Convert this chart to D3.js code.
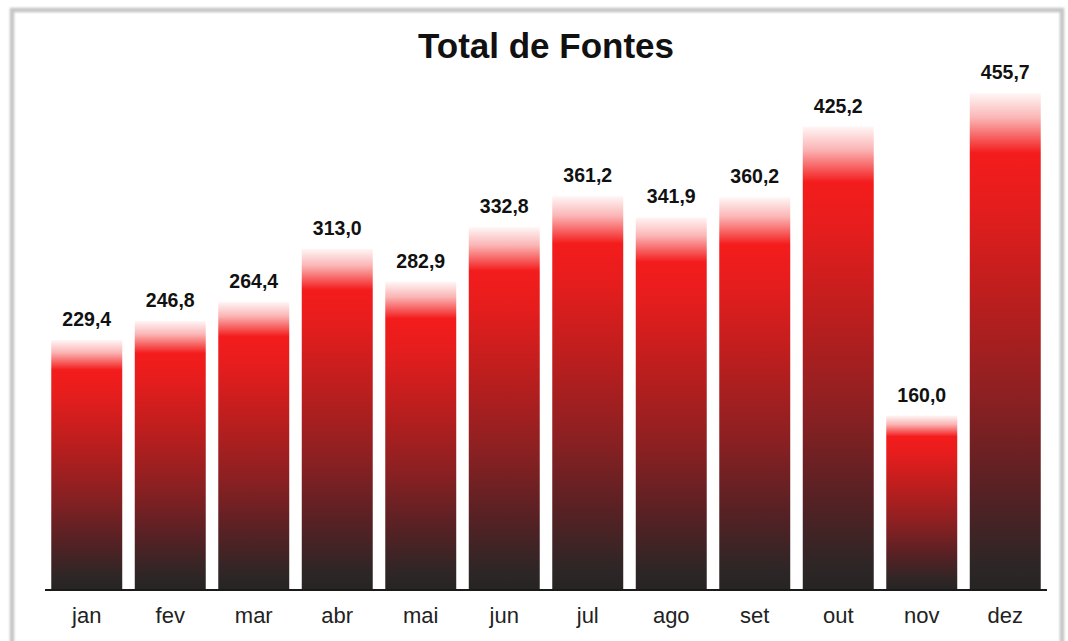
<!DOCTYPE html>
<html>
<head>
<meta charset="utf-8">
<script src="https://cdn.jsdelivr.net/npm/d3@7"></script>
<style>
  body { margin: 0; background: #fff; }
  svg { display: block; font-family: "Liberation Sans", Arial, sans-serif; }
</style>
</head>
<body>
<div id="chart"></div>
<script>
// data
const months = ["jan", "fev", "mar", "abr", "mai", "jun", "jul", "ago", "set", "out", "nov", "dez"];
const totals = [229.4, 246.8, 264.4, 313.0, 282.9, 332.8, 361.2, 341.9, 360.2, 425.2, 160.0, 455.7];

const width = 1068;
const height = 641;
const left = 45, right = 1047, base = 590;

const svg = d3.select("#chart").append("svg")
    .attr("width", width)
    .attr("height", height);

// soft shadow for the frame
const defs = svg.append("defs");
const blur = defs.append("filter").attr("id", "soft");
blur.append("feGaussianBlur").attr("stdDeviation", 0.8);

const grad = defs.append("linearGradient")
    .attr("id", "barGrad")
    .attr("x1", 0).attr("y1", 0).attr("x2", 0).attr("y2", 1);
[[0, "#fff6f6"], [0.05, "#fbb4b4"], [0.12, "#f41c1c"], [0.22, "#e61d1d"],
 [0.42, "#ba1e1e"], [0.62, "#8a2022"], [0.8, "#572124"], [0.95, "#2d2626"], [1, "#282424"]]
  .forEach(([o, c]) => grad.append("stop").attr("offset", o).attr("stop-color", c));

// frame
svg.append("rect")
    .attr("x", 12).attr("y", 10)
    .attr("width", 1050).attr("height", 660)
    .attr("fill", "none")
    .attr("stroke", "#c6c6c6")
    .attr("stroke-width", 4.5)
    .attr("filter", "url(#soft)");

const x = d3.scaleBand()
    .domain(months)
    .range([left, right])
    .paddingInner(0.15)
    .paddingOuter(0.075);

const y = d3.scaleLinear()
    .domain([0, 500])
    .range([base, base - 545]);

// title
svg.append("text")
    .attr("x", (left + right) / 2)
    .attr("y", 58)
    .attr("text-anchor", "middle")
    .style("font-size", "35px")
    .style("font-weight", "bold")
    .attr("fill", "#111")
    .text("Total de Fontes");

// bars
svg.append("g")
  .selectAll("rect")
  .data(months)
  .join("rect")
    .attr("x", d => x(d))
    .attr("y", (d, i) => y(totals[i]))
    .attr("width", x.bandwidth())
    .attr("height", (d, i) => base - y(totals[i]))
    .attr("fill", "url(#barGrad)");

// value labels
svg.append("g")
  .selectAll("text")
  .data(months)
  .join("text")
    .attr("x", d => x(d) + x.bandwidth() / 2)
    .attr("y", (d, i) => y(totals[i]) - 14)
    .attr("text-anchor", "middle")
    .style("font-size", "19.5px")
    .style("font-weight", "bold")
    .attr("fill", "#111")
    .text((d, i) => d3.format(".1f")(totals[i]).replace(".", ","));

// x axis
const xAxis = d3.axisBottom(x).tickSize(0).tickPadding(17);
svg.append("g")
    .attr("transform", `translate(0,${base})`)
    .call(xAxis)
    .call(g => g.select(".domain").attr("stroke", "#1a1a1a").attr("stroke-width", 2)
        .attr("d", `M${left},0H${right}`))
    .call(g => g.selectAll(".tick text")
        .style("font-size", "22px")
        .style("font-family", "Liberation Sans, Arial, sans-serif")
        .attr("fill", "#222"));
</script>
</body>
</html>
